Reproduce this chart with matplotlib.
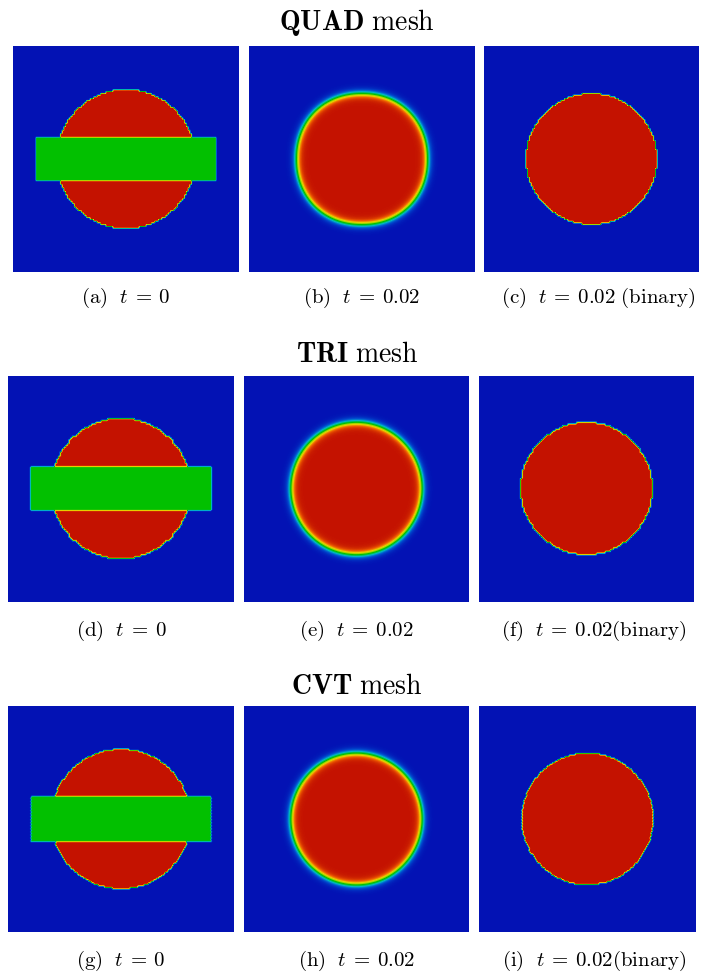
import numpy as np
import matplotlib
matplotlib.use("Agg")
import matplotlib.pyplot as plt
from matplotlib.colors import LinearSegmentedColormap
from matplotlib.tri import Triangulation, LinearTriInterpolator

plt.rcParams['mathtext.fontset'] = 'cm'
plt.rcParams['font.family'] = 'serif'
plt.rcParams['font.serif'] = ['DejaVu Serif']

# --- problem setup (unit square domain) ---
center = (0.5, 0.5)
radius_t0 = 0.31            # initial disk
bar_x = (0.10, 0.90)        # initial horizontal bar
bar_y = (0.40, 0.60)
bar_value = 0.5
radius_t002 = 0.292         # disk radius at t = 0.02
eps_t002 = 0.019            # diffuse interface width
quad_norm = 2.12            # quad mesh leaves the disk slightly square

mesh_names = ["QUAD", "TRI", "CVT"]
captions = [
    ["(a)", "(b)", "(c)"],
    ["(d)", "(e)", "(f)"],
    ["(g)", "(h)", "(i)"],
]
times = ["0", "0.02", "0.02"]
binary_tag = [r"\ \mathrm{(binary)}", r"\mathrm{(binary)}", r"\mathrm{(binary)}"]

# colour scale 0 -> 1
cmap = LinearSegmentedColormap.from_list("pv_jet", [
    (0.00, "#0312b4"),
    (0.15, "#0050d0"),
    (0.30, "#00b8c8"),
    (0.42, "#00c040"),
    (0.50, "#00c000"),
    (0.62, "#a0d800"),
    (0.72, "#e8d000"),
    (0.85, "#f06000"),
    (1.00, "#c41200"),
])


def dist(x, y, p=2.0):
    return (np.abs(x - center[0]) ** p + np.abs(y - center[1]) ** p) ** (1.0 / p)


def field_t0(x, y):
    v = np.where(dist(x, y) <= radius_t0, 1.0, 0.0)
    inbar = (x >= bar_x[0]) & (x <= bar_x[1]) & (y >= bar_y[0]) & (y <= bar_y[1])
    v[inbar] = bar_value
    return v


def field_t002(x, y, p=2.0):
    return 0.5 * (1.0 - np.tanh((dist(x, y, p) - radius_t002) / eps_t002))


def field_binary(x, y, p=2.0):
    return (field_t002(x, y, p) >= 0.5).astype(float)


# --- meshes: vertex coordinates ---
def quad_mesh(n=128):
    s = np.linspace(0, 1, n + 1)
    X, Y = np.meshgrid(s, s)
    return X, Y


def tri_mesh(n=128):
    s = np.linspace(0, 1, n + 1)
    X, Y = np.meshgrid(s, s)
    x, y = X.ravel(), Y.ravel()
    tris = []
    for j in range(n):
        for i in range(n):
            a = j * (n + 1) + i
            b, c, d = a + 1, a + n + 1, a + n + 2
            if (i + j) % 2 == 0:
                tris += [[a, b, d], [a, d, c]]
            else:
                tris += [[a, b, c], [b, d, c]]
    return Triangulation(x, y, np.array(tris))


def cvt_mesh(h=0.0078):
    dy = h * np.sqrt(3) / 2
    rows = np.arange(-0.03, 1.03, dy)
    xs, ys = [], []
    for j, yy in enumerate(rows):
        xx = np.arange(-0.03, 1.03, h) + (j % 2) * h / 2
        xs.append(xx)
        ys.append(np.full_like(xx, yy))
    return Triangulation(np.concatenate(xs), np.concatenate(ys))


def rasterize(tri, values, res=450):
    s = np.linspace(0, 1, res)
    X, Y = np.meshgrid(s, s)
    z = LinearTriInterpolator(tri, values)(X, Y)
    return np.ma.filled(z, 0.0)


qx, qy = quad_mesh()
tri = tri_mesh()
cvt = cvt_mesh()

images = [
    [field_t0(qx, qy), field_t002(qx, qy, quad_norm), field_binary(qx, qy)],
    [rasterize(tri, field_t0(tri.x, tri.y)),
     rasterize(tri, field_t002(tri.x, tri.y)),
     rasterize(tri, field_binary(tri.x, tri.y))],
    [rasterize(cvt, field_t0(cvt.x, cvt.y)),
     rasterize(cvt, field_t002(cvt.x, cvt.y)),
     rasterize(cvt, field_binary(cvt.x, cvt.y))],
]

# --- layout in pixels ---
W, H = 702, 978
fig = plt.figure(figsize=(W / 100, H / 100), dpi=100)


def px_axes(x, y, w, h):
    return fig.add_axes([x / W, 1 - (y + h) / H, w / W, h / H])


panel_x = [
    [(13, 226), (249, 225), (484, 215)],
    [(8, 226), (244, 225), (479, 215)],
    [(8, 226), (244, 225), (479, 217)],
]
panel_top = [47, 377, 707]
panel_h = 226
title_y = [22, 355, 686]
caption_y = [298, 631, 961]
caption_shift = [0, 0, 7]

for r in range(3):
    fig.text(357 / W, 1 - title_y[r] / H,
             r"$\mathbf{%s}\ \mathrm{mesh}$" % mesh_names[r],
             ha="center", va="center", fontsize=20)
    for c in range(3):
        x0, w = panel_x[r][c]
        ax = px_axes(x0, panel_top[r], w, panel_h)
        ax.imshow(images[r][c], cmap=cmap, vmin=0, vmax=1, origin="lower",
                  extent=[0, 1, 0, 1], interpolation="bilinear",
                  interpolation_stage="data")
        ax.set_aspect("auto")
        if c == 2:
            crop = (1 - w / panel_h) / 2
            ax.set_xlim(crop, 1 - crop)
        else:
            ax.set_xlim(0, 1)
        ax.set_ylim(0, 1)
        ax.axis("off")

        label = r"$\mathrm{%s}\ \ t\:=\:%s" % (captions[r][c], times[c])
        if c == 2:
            label += binary_tag[r]
        label += "$"
        fig.text((x0 + w / 2 + caption_shift[c]) / W, 1 - caption_y[r] / H, label,
                 ha="center", va="center", fontsize=15)

fig.savefig("out.png", dpi=100, facecolor="white")
